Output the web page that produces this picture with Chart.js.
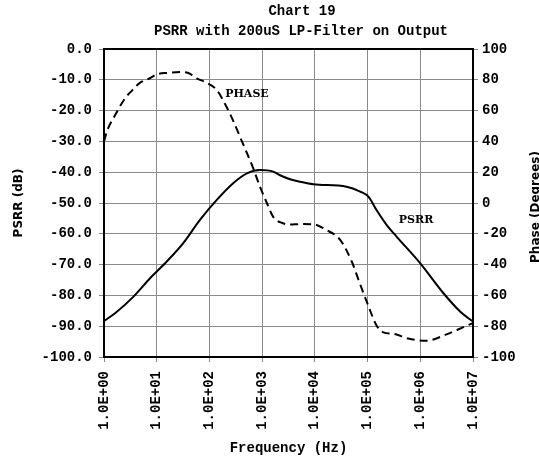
<!DOCTYPE html>
<html>
<head>
<meta charset="utf-8">
<script src="https://cdn.jsdelivr.net/npm/chart.js@4"></script>
<style>
  body { margin: 0; background: #fff; }
  canvas { display: block; }
</style>
</head>
<body>
<canvas id="chart" width="539" height="459"></canvas>
<script>
// Datos
const titleLines = ['Chart 19', 'PSRR with 200uS LP-Filter on Output'];
const xTickValues = [1, 10, 100, 1000, 10000, 100000, 1000000, 10000000];
const xTickLabels = ['1.0E+00', '1.0E+01', '1.0E+02', '1.0E+03', '1.0E+04', '1.0E+05', '1.0E+06', '1.0E+07'];

const psrrFreq = [1, 1.62, 3.63, 7.41, 15.5, 31.6, 66.1, 138, 282, 513, 912, 1622, 2188, 3388, 5248, 9333,
  39810, 72440, 104700, 147900, 229100, 354800, 1000000, 2754000, 5754000, 10000000];
const psrrDb = [-88.3, -85.8, -80.4, -74.5, -69, -63.1, -55.5, -49, -43.6, -40.4, -39.3, -39.8, -41, -42.3, -43.1, -43.9,
  -44.7, -46.3, -48, -52.3, -57.1, -60.9, -69.6, -79.3, -85.3, -88.5];

const phaseFreq = [1, 1.15, 1.62, 2.51, 3.39, 4.79, 7.41, 10, 15.8, 27.5, 39.8, 57.5, 89.1, 138, 214, 269, 380, 513, 676,
  912, 1230, 1622, 2399, 3388, 5248, 9333, 15490, 30200, 50120, 69180, 104700, 147900, 199500, 316200, 588800,
  1259000, 3162000, 7244000, 10000000];
const phaseDeg = [40, 47, 57, 68, 73, 78, 81, 83.5, 84.5, 85, 84.4, 81, 78, 73.4, 62, 55, 43, 32.5, 22.7,
  10.4, 0, -9, -13, -14, -13.7, -13.8, -17, -24, -38, -51, -67.3, -79.5, -84, -85, -88,
  -89.5, -85.3, -80, -78];

const tickFont = { family: '"Liberation Mono", "Courier New", monospace', size: 14, weight: 'bold' };
const gridCol = '#8a8a8a';

const extras = {
  id: 'extras',
  afterDraw(chart) {
    const { ctx, chartArea: a, scales } = chart;
    ctx.save();
    ctx.strokeStyle = '#000';
    ctx.lineWidth = 2;
    ctx.strokeRect(a.left, a.top, a.right - a.left, a.bottom - a.top);

    ctx.fillStyle = '#000';
    ctx.textAlign = 'center';
    ctx.textBaseline = 'middle';
    ctx.font = 'bold 14px "Liberation Mono"';
    ctx.fillText(titleLines[0], 302, 11);
    ctx.fillText(titleLines[1], 301, 31);

    // etiquetas de las curvas
    ctx.font = 'bold 11px "DejaVu Serif"';
    ctx.fillText('PHASE', scales.x.getPixelForValue(515), scales.y1.getPixelForValue(70.8));
    ctx.fillText('PSRR', scales.x.getPixelForValue(832000), scales.y.getPixelForValue(-55.5));

    // título del eje derecho (queda cortado por el borde, como en el original)
    ctx.font = 'bold 12px "DejaVu Sans"';
    ctx.textBaseline = 'alphabetic';
    ctx.translate(539, 207);
    ctx.rotate(-Math.PI / 2);
    ctx.fillText('Phase (Degrees)', 0, 0);
    ctx.restore();
  }
};

new Chart(document.getElementById('chart'), {
  type: 'line',
  data: {
    datasets: [
      {
        label: 'PSRR',
        data: psrrFreq.map((f, i) => ({ x: f, y: psrrDb[i] })),
        yAxisID: 'y',
        borderColor: '#000',
        borderWidth: 2,
        pointRadius: 0,
        cubicInterpolationMode: 'monotone',
        fill: false
      },
      {
        label: 'PHASE',
        data: phaseFreq.map((f, i) => ({ x: f, y: phaseDeg[i] })),
        yAxisID: 'y1',
        borderColor: '#000',
        borderWidth: 2,
        borderDash: [8, 5],
        pointRadius: 0,
        cubicInterpolationMode: 'monotone',
        fill: false
      }
    ]
  },
  options: {
    responsive: false,
    animation: false,
    layout: { padding: { top: 49, left: 0, right: 0, bottom: 0 } },
    plugins: {
      legend: { display: false },
      title: { display: false },
      tooltip: { enabled: false }
    },
    scales: {
      x: {
        type: 'logarithmic',
        position: 'bottom',
        min: 1,
        max: 10000000,
        afterBuildTicks: s => { s.ticks = xTickValues.map(v => ({ value: v })); },
        afterFit: s => { s.height = 102; },
        grid: { color: gridCol, lineWidth: 1, tickLength: 5 },
        border: { display: false },
        ticks: {
          autoSkip: false,
          minRotation: 90,
          maxRotation: 90,
          padding: 9,
          color: '#000',
          font: tickFont,
          callback: (v, i) => xTickLabels[i]
        },
        title: {
          display: true,
          text: 'Frequency (Hz)',
          color: '#000',
          font: tickFont,
          padding: { top: 0, bottom: 2 }
        }
      },
      y: {
        position: 'left',
        min: -100,
        max: 0,
        afterFit: s => { s.width = 104; },
        grid: { color: gridCol, lineWidth: 1, tickLength: 5 },
        border: { display: false },
        ticks: {
          stepSize: 10,
          padding: 7,
          color: '#000',
          font: tickFont,
          callback: v => v.toFixed(1)
        },
        title: {
          display: true,
          text: 'PSRR (dB)',
          color: '#000',
          font: { family: '"DejaVu Sans", Verdana, sans-serif', size: 12, weight: 'bold' },
          padding: { top: 12, bottom: 0 }
        }
      },
      y1: {
        position: 'right',
        min: -100,
        max: 100,
        afterFit: s => { s.width = 66; },
        grid: { drawOnChartArea: false, color: gridCol, lineWidth: 1, tickLength: 5 },
        border: { display: false },
        ticks: {
          stepSize: 20,
          padding: 4,
          color: '#000',
          font: tickFont,
          callback: v => String(v)
        }
      }
    }
  },
  plugins: [extras]
});
</script>
</body>
</html>
